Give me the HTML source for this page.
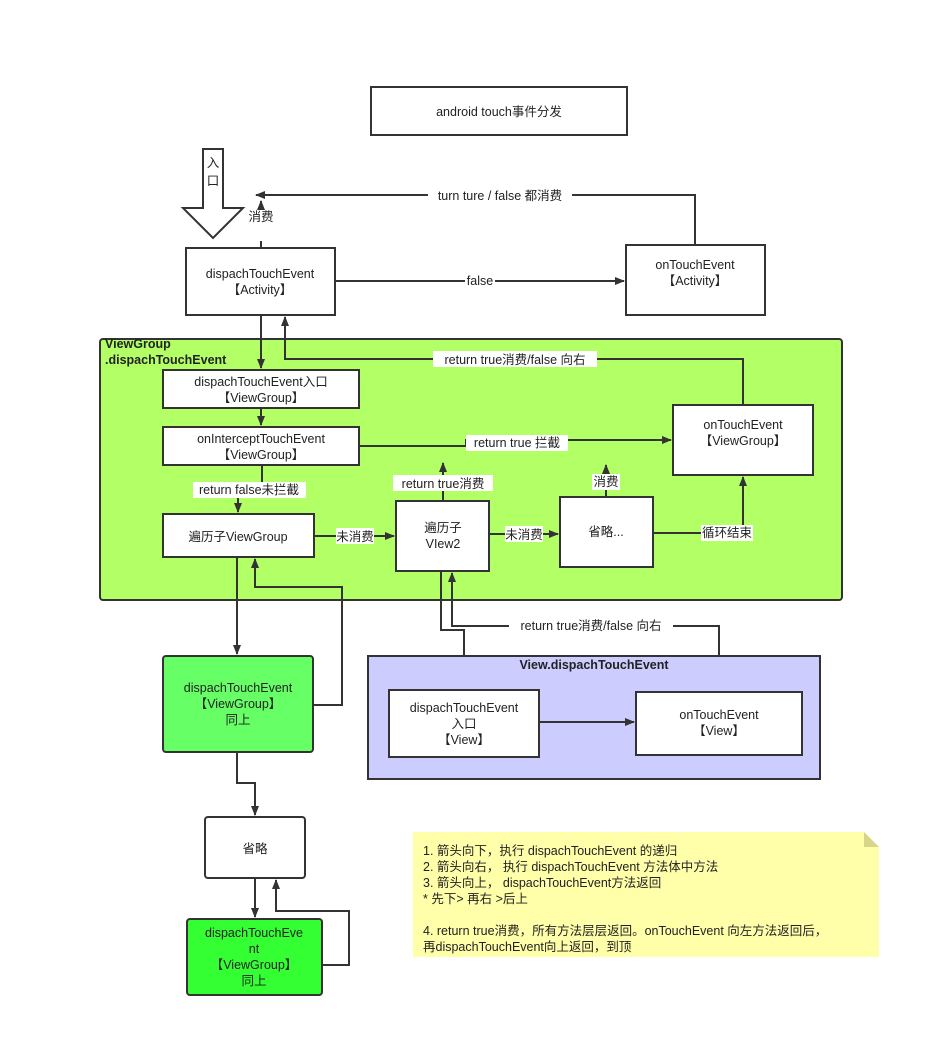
<!DOCTYPE html>
<html><head><meta charset="utf-8"><style>
html,body{margin:0;padding:0;background:#fff;}
svg{display:block;}
text{font-family:"Liberation Sans","Noto Sans CJK SC",sans-serif;font-size:12.5px;fill:#222;}
.c{text-anchor:middle;}
.b{font-weight:bold;}
.ln{fill:none;stroke:#333;stroke-width:2;}
.bx{stroke:#333;stroke-width:2;}
.lb{fill:#fff;}
</style></head><body>
<svg width="941" height="1056" viewBox="0 0 941 1056" xmlns="http://www.w3.org/2000/svg">
<defs>
<marker id="a" markerWidth="10" markerHeight="8" refX="9" refY="4" orient="auto" markerUnits="userSpaceOnUse">
<path d="M0,0 L10,4 L0,8 z" fill="#333"/></marker>
</defs>

<!-- title -->
<rect x="371" y="87" width="256" height="48" fill="#fff" class="bx"/>
<text x="499" y="116" class="c">android touch事件分发</text>

<!-- entry arrow -->
<path d="M203,149 L223,149 L223,208 L243,208 L213,238 L183,208 L203,208 Z" fill="#fff" stroke="#333" stroke-width="2"/>
<text x="213" y="167" class="c">入</text>
<text x="213" y="185" class="c">口</text>

<!-- Activity -->
<rect x="186" y="248" width="149" height="67" fill="#fff" class="bx"/>
<text x="260" y="278" class="c">dispachTouchEvent</text>
<text x="260" y="294" class="c">【Activity】</text>
<rect x="626" y="245" width="139" height="70" fill="#fff" class="bx"/>
<text x="695" y="269" class="c">onTouchEvent</text>
<text x="695" y="285" class="c">【Activity】</text>

<path class="ln" d="M335,281 L624,281" marker-end="url(#a)"/>
<rect x="465" y="273" width="30" height="16" class="lb"/>
<text x="480" y="285" class="c">false</text>

<path class="ln" d="M695,245 L695,195 L256,195" marker-end="url(#a)"/>
<rect x="428" y="187" width="144" height="16" class="lb"/>
<text x="500" y="200" class="c">turn ture / false 都消费</text>
<path class="ln" d="M261,209 L261,201" marker-end="url(#a)"/>
<text x="261" y="221" class="c">消费</text>
<path class="ln" d="M261,241 L261,248"/>

<!-- ViewGroup container -->
<rect x="100" y="339" width="742" height="261" rx="3" fill="#b3ff66" class="bx"/>
<text x="105" y="348" class="b">ViewGroup</text>
<text x="105" y="364" class="b">.dispachTouchEvent</text>

<path class="ln" d="M261,315 L261,368" marker-end="url(#a)"/>
<path class="ln" d="M743,405 L743,359 L285,359 L285,317" marker-end="url(#a)"/>
<rect x="433" y="351" width="164" height="16" class="lb"/>
<text x="515" y="364" class="c">return true消费/false 向右</text>

<rect x="163" y="370" width="196" height="38" fill="#fff" class="bx"/>
<text x="261" y="386" class="c">dispachTouchEvent入口</text>
<text x="261" y="402" class="c">【ViewGroup】</text>
<path class="ln" d="M261,408 L261,425" marker-end="url(#a)"/>
<rect x="163" y="427" width="196" height="38" fill="#fff" class="bx"/>
<text x="261" y="443" class="c">onInterceptTouchEvent</text>
<text x="261" y="459" class="c">【ViewGroup】</text>

<path class="ln" d="M359,446 L466,446 L466,440 L671,440" marker-end="url(#a)"/>
<rect x="466" y="435" width="102" height="16" class="lb"/>
<text x="517" y="447" class="c">return true 拦截</text>

<rect x="673" y="405" width="140" height="70" fill="#fff" class="bx"/>
<text x="743" y="429" class="c">onTouchEvent</text>
<text x="743" y="445" class="c">【ViewGroup】</text>

<path class="ln" d="M262,465 L262,482 M238,497 L238,512" marker-end="url(#a)"/>
<rect x="193" y="482" width="113" height="16" class="lb"/>
<text x="249" y="494" class="c">return false未拦截</text>

<rect x="163" y="514" width="151" height="43" fill="#fff" class="bx"/>
<text x="238" y="541" class="c">遍历子ViewGroup</text>

<path class="ln" d="M314,536 L394,536" marker-end="url(#a)"/>
<rect x="336" y="528" width="38" height="16" class="lb"/>
<text x="355" y="541" class="c">未消费</text>

<rect x="396" y="501" width="93" height="70" fill="#fff" class="bx"/>
<text x="443" y="532" class="c">遍历子</text>
<text x="443" y="548" class="c">VIew2</text>
<path class="ln" d="M443,501 L443,463" marker-end="url(#a)"/>
<rect x="393" y="475" width="100" height="16" class="lb"/>
<text x="443" y="488" class="c">return true消费</text>

<path class="ln" d="M489,534 L558,534" marker-end="url(#a)"/>
<rect x="505" y="526" width="38" height="16" class="lb"/>
<text x="524" y="539" class="c">未消费</text>

<rect x="560" y="497" width="93" height="70" fill="#fff" class="bx"/>
<text x="606" y="536" class="c">省略...</text>
<path class="ln" d="M606,497 L606,465" marker-end="url(#a)"/>
<rect x="592" y="474" width="28" height="16" class="lb"/>
<text x="606" y="486" class="c">消费</text>

<path class="ln" d="M653,533 L743,533 L743,477" marker-end="url(#a)"/>
<rect x="701" y="525" width="52" height="16" class="lb"/>
<text x="727" y="537" class="c">循环结束</text>

<!-- below -->
<path class="ln" d="M237,557 L237,654" marker-end="url(#a)"/>
<path class="ln" d="M313,705 L342,705 L342,587 L255,587 L255,559" marker-end="url(#a)"/>

<path class="ln" d="M441,571 L441,630 L464,630 L464,688" marker-end="url(#a)"/>
<path class="ln" d="M719,690 L719,626 L452,626 L452,573" marker-end="url(#a)"/>
<rect x="509" y="618" width="164" height="16" class="lb"/>
<text x="591" y="630" class="c">return true消费/false 向右</text>

<rect x="163" y="656" width="150" height="96" rx="3" fill="#66ff66" class="bx"/>
<text x="238" y="692" class="c">dispachTouchEvent</text>
<text x="238" y="708" class="c">【ViewGroup】</text>
<text x="238" y="724" class="c">同上</text>

<rect x="368" y="656" width="452" height="123" fill="#ccccff" class="bx"/>
<text x="594" y="669" class="c b">View.dispachTouchEvent</text>
<rect x="389" y="690" width="150" height="67" fill="#fff" class="bx"/>
<text x="464" y="712" class="c">dispachTouchEvent</text>
<text x="464" y="728" class="c">入口</text>
<text x="464" y="744" class="c">【View】</text>
<rect x="636" y="692" width="166" height="63" fill="#fff" class="bx"/>
<text x="719" y="719" class="c">onTouchEvent</text>
<text x="719" y="735" class="c">【View】</text>
<path class="ln" d="M539,722 L634,722" marker-end="url(#a)"/>

<path class="ln" d="M237,752 L237,783 L255,783 L255,815" marker-end="url(#a)"/>
<rect x="205" y="817" width="100" height="61" rx="3" fill="#fff" class="bx"/>
<text x="255" y="853" class="c">省略</text>
<path class="ln" d="M255,878 L255,917" marker-end="url(#a)"/>
<path class="ln" d="M322,965 L349,965 L349,911 L276,911 L276,880" marker-end="url(#a)"/>

<rect x="187" y="919" width="135" height="76" rx="3" fill="#33ff33" class="bx"/>
<text x="254" y="937" class="c">dispachTouchEve</text>
<text x="254" y="953" class="c">nt</text>
<text x="254" y="969" class="c">【ViewGroup】</text>
<text x="254" y="985" class="c">同上</text>

<!-- note -->
<path d="M413,832 L864,832 L879,847 L879,957 L413,957 Z" fill="#ffffaa"/>
<path d="M864,832 L879,847 L864,847 Z" fill="#d6d68a"/>
<text x="423" y="855">1. 箭头向下，执行 dispachTouchEvent 的递归</text>
<text x="423" y="871">2. 箭头向右， 执行 dispachTouchEvent 方法体中方法</text>
<text x="423" y="887">3. 箭头向上， dispachTouchEvent方法返回</text>
<text x="423" y="903"> * 先下&gt; 再右 &gt;后上</text>
<text x="423" y="935">4.  return true消费，所有方法层层返回。onTouchEvent 向左方法返回后，</text>
<text x="423" y="951">再dispachTouchEvent向上返回，到顶</text>
</svg>
</body></html>
